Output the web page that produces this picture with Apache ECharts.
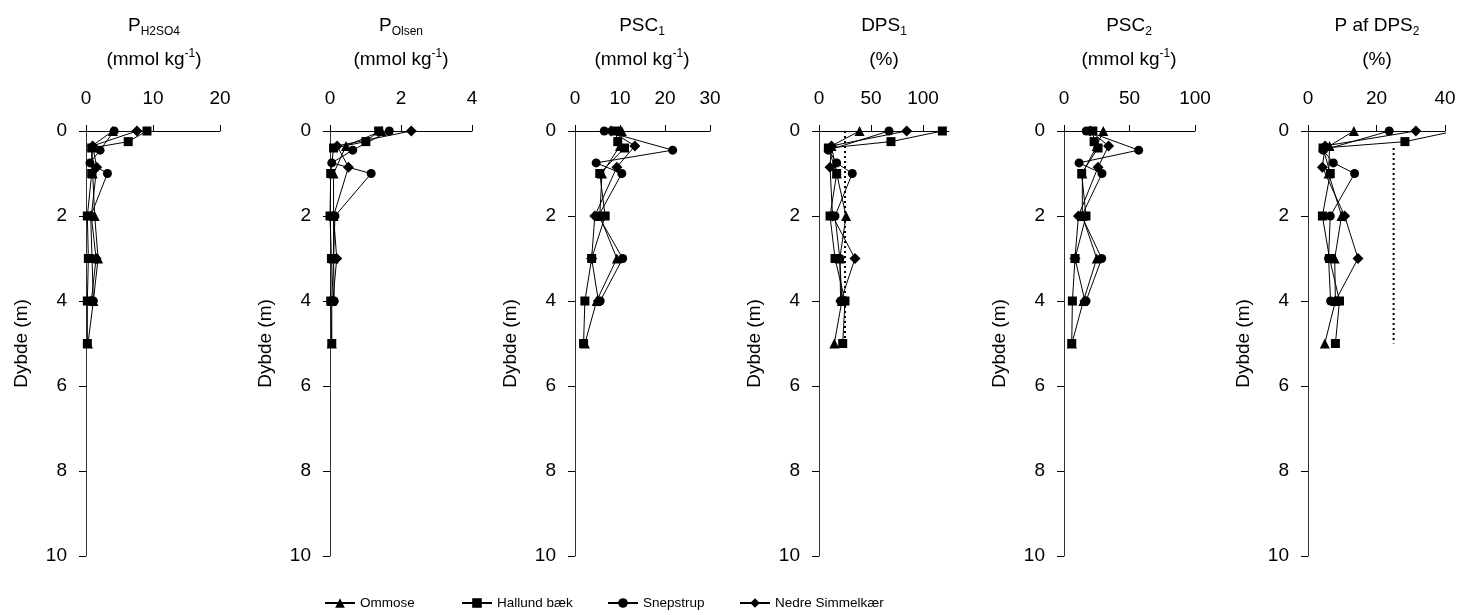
<!DOCTYPE html>
<html>
<head>
<meta charset="utf-8">
<script src="https://cdn.jsdelivr.net/npm/echarts@6/dist/echarts.min.js"></script>
<style>html,body{margin:0;padding:0;background:#fff}#c{width:1460px;height:615px}</style>
</head>
<body>
<div id="c"></div>
<script>
// ---------- DATA ----------
const siteNames = ['Ommose', 'Hallund bæk', 'Snepstrup', 'Nedre Simmelkær'];

// depths (m) per site
const depthOmmose  = [0, 0.35, 1, 2, 3, 4, 5];
const depthHallund = [0, 0.25, 0.4, 1, 2, 3, 4, 5];
const depthSnep    = [0, 0.45, 0.75, 1, 2, 3, 4];
const depthNedre   = [0, 0.35, 0.85, 2, 3, 4];

// P_H2SO4 (mmol/kg)
const ph2so4Ommose  = [4.0, 0.9, 1.0, 1.3, 1.8, 1.1, 0.3];
const ph2so4Hallund = [9.1, 6.3, 0.85, 0.85, 0.2, 0.35, 0.2, 0.2];
const ph2so4Snep    = [4.2, 2.1, 0.6, 3.2, 0.7, 0.9, 1.1];
const ph2so4Nedre   = [7.6, 1.0, 1.6, 0.8, 1.5, 0.8];

// P_Olsen (mmol/kg)
const polsenOmmose  = [1.45, 0.45, 0.1, 0.1, 0.1, 0.05, 0.05];
const polsenHallund = [1.37, 1.01, 0.1, 0.02, 0.0, 0.04, 0.02, 0.05];
const polsenSnep    = [1.67, 0.64, 0.05, 1.16, 0.14, 0.1, 0.12];
const polsenNedre   = [2.29, 0.2, 0.52, 0.1, 0.19, 0.08];

// PSC1 (mmol/kg)
const psc1Ommose  = [10.4, 10, 6, 5.5, 9.3, 4.8, 2.2];
const psc1Hallund = [9, 9.5, 11, 5.5, 6.7, 3.7, 2.2, 1.9];
const psc1Snep    = [6.5, 21.7, 4.7, 10.4, 5.2, 10.6, 5.6];
const psc1Nedre   = [8, 13.3, 9.3, 4.4, 3.7, 5.2];

// DPS1 (%)
const dps1Ommose  = [39, 12, 17, 26, 20, 22, 14.7];
const dps1Hallund = [118.6, 69.2, 9, 17, 10.6, 15.4, 25, 22.8];
const dps1Snep    = [67.3, 9, 17, 32, 15.4, 20, 20.8];
const dps1Nedre   = [84.3, 12, 10.6, 13, 34.6, 21];
const dps1Threshold = [[25, 0], [25, 5]];

// PSC2 (mmol/kg)
const psc2Ommose  = [30, 25, 14, 14, 25, 14.8, 6];
const psc2Hallund = [22, 23, 26, 13.5, 16.8, 8.4, 6.4, 5.9];
const psc2Snep    = [17, 57, 11.5, 29, 13.5, 28.8, 16.8];
const psc2Nedre   = [20, 34, 26, 11, 8.4, 16];

// P af DPS2 (%)
const dps2Ommose  = [13.4, 6.3, 6, 9.8, 7.8, 8, 4.9];
const dps2Hallund = [43, 28.3, 4.4, 6.5, 4.2, 6.3, 9.2, 8.0];
const dps2Snep    = [23.7, 4.4, 7.4, 13.6, 6.5, 6, 6.6];
const dps2Nedre   = [31.5, 5, 4.2, 10.7, 14.6, 8];
const dps2Threshold = [[25, 0.4], [25, 5]];

// axis ranges / ticks
const xMax = [20, 4, 30, 125, 100, 40];
const xInterval = [10, 2, 10, 50, 50, 20];
const depthTicks = [0, 2, 4, 6, 8, 10];

// ---------- LAYOUT ----------
const FONT = 'Liberation Sans, Arial, sans-serif';
const gridLeft = [86, 330, 575, 819, 1064, 1308];
const gridWidth = [134, 142, 135, 130, 131, 137];
const gridTop = 131, gridHeight = 425;
const titleX = [154, 401, 642, 884, 1129, 1377];

const depths = [depthOmmose, depthHallund, depthSnep, depthNedre];
const panelValues = [
  [ph2so4Ommose, ph2so4Hallund, ph2so4Snep, ph2so4Nedre],
  [polsenOmmose, polsenHallund, polsenSnep, polsenNedre],
  [psc1Ommose, psc1Hallund, psc1Snep, psc1Nedre],
  [dps1Ommose, dps1Hallund, dps1Snep, dps1Nedre],
  [psc2Ommose, psc2Hallund, psc2Snep, psc2Nedre],
  [dps2Ommose, dps2Hallund, dps2Snep, dps2Nedre]
];
const thresholds = {3: dps1Threshold, 5: dps2Threshold};
const symbols = ['triangle', 'rect', 'circle', 'diamond'];
const symbolSizes = [10, 9, 9, 11];

const title1 = ['{m|P}{s|H2SO4}', '{m|P}{s|Olsen}', '{m|PSC}{s|1}', '{m|DPS}{s|1}', '{m|PSC}{s|2}', '{m|P af DPS}{s|2}'];
const title2 = ['{m|(mmol kg}{u|-1}{m|)}', '{m|(mmol kg}{u|-1}{m|)}', '{m|(mmol kg}{u|-1}{m|)}', '{m|(%)}', '{m|(mmol kg}{u|-1}{m|)}', '{m|(%)}'];

const rich = {
  m: {fontSize: 19, fontFamily: FONT, fill: '#000', lineHeight: 24},
  s: {fontSize: 12, fontFamily: FONT, fill: '#000', lineHeight: 9, verticalAlign: 'bottom'},
  u: {fontSize: 12, fontFamily: FONT, fill: '#000', lineHeight: 9, verticalAlign: 'top'}
};

const grids = [], xAxes = [], yAxes = [], series = [], graphics = [];
for (let p = 0; p < 6; p++) {
  grids.push({left: gridLeft[p], top: gridTop, width: gridWidth[p], height: gridHeight});
  const ticks = [];
  for (let v = 0; v <= xMax[p] + 1e-9; v += xInterval[p]) ticks.push(v);
  xAxes.push({
    type: 'value', gridIndex: p, position: 'top', min: 0, max: xMax[p], interval: xInterval[p],
    axisLine: {show: true, onZero: false, lineStyle: {color: '#000', width: 1}},
    axisTick: {show: true, length: 6, lineStyle: {color: '#000'}, customValues: ticks},
    axisLabel: {fontSize: 19, fontFamily: FONT, color: '#000', margin: 23, customValues: ticks},
    splitLine: {show: false}
  });
  yAxes.push({
    type: 'value', gridIndex: p, inverse: true, min: 0, max: 10, interval: 2,
    name: 'Dybde (m)', nameLocation: 'middle', nameGap: 55, nameRotate: 90,
    nameTextStyle: {fontSize: 19, fontFamily: FONT, color: '#000'},
    axisLine: {show: true, onZero: false, lineStyle: {color: '#333', width: 1}},
    axisTick: {show: true, length: 7, lineStyle: {color: '#000'}, customValues: depthTicks},
    axisLabel: {fontSize: 19, fontFamily: FONT, color: '#000', margin: 19, customValues: depthTicks},
    splitLine: {show: false}
  });
  for (let s = 0; s < 4; s++) {
    series.push({
      name: siteNames[s], type: 'line', xAxisIndex: p, yAxisIndex: p,
      data: panelValues[p][s].map((v, i) => [v, depths[s][i]]),
      symbol: symbols[s], symbolSize: symbolSizes[s], showAllSymbol: true, clip: true,
      lineStyle: {color: '#000', width: 1}, itemStyle: {color: '#000'},
      animation: false, z: 3
    });
  }
  if (thresholds[p]) {
    series.push({
      name: 'grænse', type: 'line', xAxisIndex: p, yAxisIndex: p, data: thresholds[p],
      symbol: 'none', lineStyle: {color: '#000', width: 2, type: [2, 3]}, animation: false, z: 2
    });
  }
  graphics.push({type: 'text', x: titleX[p], y: 26, style: {text: title1[p], rich: rich, align: 'center', verticalAlign: 'middle'}});
  graphics.push({type: 'text', x: titleX[p], y: 60, style: {text: title2[p], rich: rich, align: 'center', verticalAlign: 'middle'}});
}

const legendLeft = [319, 456, 602, 734];
const legends = siteNames.map((n, i) => ({
  data: [n], left: legendLeft[i], top: 591, itemWidth: 30, itemHeight: 12, itemGap: 5,
  textStyle: {fontSize: 13.5, fontFamily: FONT, color: '#000', padding: [0, 0, 0, 0]},
  selectedMode: false
}));

const chart = echarts.init(document.getElementById('c'), null, {renderer: 'canvas'});
chart.setOption({
  animation: false,
  backgroundColor: '#fff',
  grid: grids, xAxis: xAxes, yAxis: yAxes, series: series,
  legend: legends, graphic: graphics
});
</script>
</body>
</html>
